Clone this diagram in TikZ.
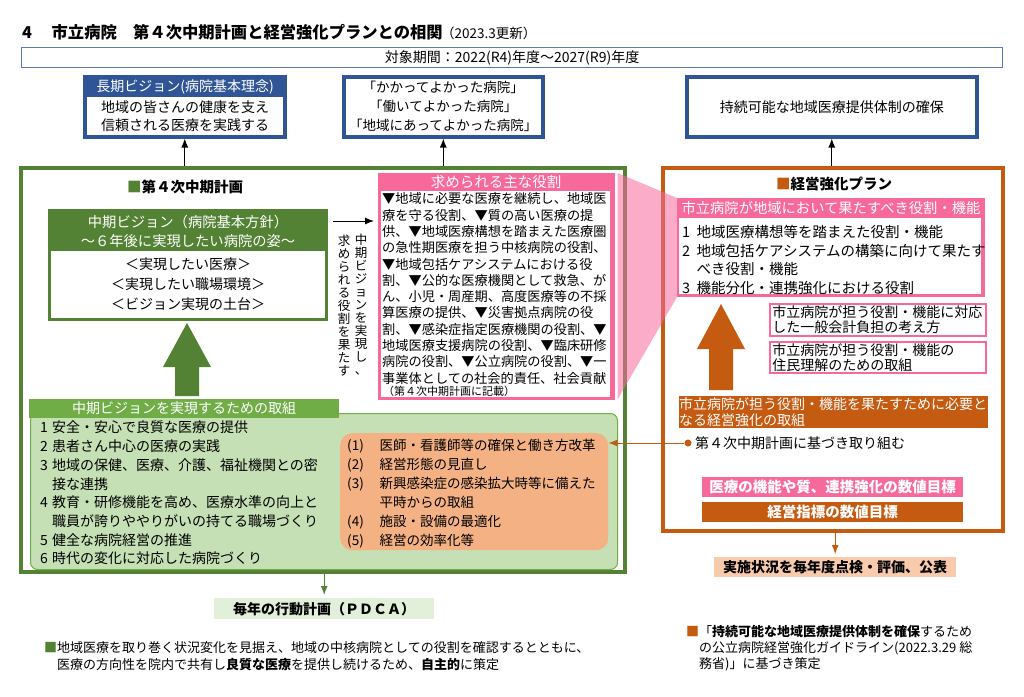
\documentclass[tikz,border=0pt]{standalone}
\usepackage{fontspec}
\setmainfont{Noto Sans CJK JP}
\usetikzlibrary{positioning, arrows.meta}

\definecolor{visionblue}{HTML}{2F5597}
\definecolor{periodblue}{HTML}{5A7BB5}
\definecolor{plangreen}{HTML}{548235}
\definecolor{midgreen}{HTML}{70AD47}
\definecolor{palegreen}{HTML}{C5E0B4}
\definecolor{lightgreen}{HTML}{E2F0D9}
\definecolor{mgmtorange}{HTML}{C55A11}
\definecolor{softorange}{HTML}{F4B183}
\definecolor{paleorange}{HTML}{F8CBAD}
\definecolor{rolepink}{HTML}{F8699B}

\newcommand{\fsz}[2]{\fontsize{#1}{#2}\selectfont\lineskiplimit=-20pt\relax}

\begin{document}
\begin{tikzpicture}[
        x=1pt, y=-1pt,
        >={Latex[length=9pt, width=7pt]},
        frame/.style={draw, rectangle, line width=3.5pt, fill=white, anchor=north west, inner sep=0pt},
        fillbox/.style={rectangle, anchor=north west, inner sep=0pt},
        textblock/.style={anchor=north west, align=left, inner sep=0pt},
        arrow/.style={->, line width=1.2pt}
    ]
    \useasboundingbox[fill=white] (0,0) rectangle (1024,696);

    % Title and period
    \node[anchor=west, inner sep=0pt, font=\fsz{16.3}{18}\bfseries] (title) at (22,32) {4\hspace{1.2em}市立病院\hspace{1em}第４次中期計画と経営強化プランとの相関};
    \node[anchor=west, inner sep=0pt, font=\fsz{13.5}{15}] (update) at (441,33) {（2023.3更新）};
    \node[fillbox, draw=periodblue, line width=1.3pt, minimum width=981, minimum height=20, font=\fsz{14}{16}] (period) at (21,47) {対象期間：2022(R4)年度～2027(R9)年度};

    % Goals
    \node[frame, draw=visionblue, fill=visionblue, minimum width=200, minimum height=60] (longterm) at (83,75) {};
    \node[font=\fsz{14}{16}, text=white] (longtitle) at (185,87) {長期ビジョン(病院基本理念)};
    \node[fillbox, fill=white, minimum width=196, minimum height=38, align=center, font=\fsz{14}{18.5}] (longbody) at (87,97) {地域の皆さんの健康を支え\\信頼される医療を実践する};
    \node[frame, draw=visionblue, minimum width=199, minimum height=60, align=center, font=\fsz{13.5}{19}] (values) at (342,75) {「かかってよかった病院」\\「働いてよかった病院」\\「地域にあってよかった病院」};
    \node[frame, draw=visionblue, minimum width=290, minimum height=60, font=\fsz{14}{16}] (sustain) at (685,75) {持続可能な地域医療提供体制の確保};

    % Frames
    \node[frame, draw=plangreen, minimum width=604, minimum height=404] (midplan) at (19,166) {};
    \node[frame, draw=mgmtorange, minimum width=340, minimum height=363] (mgmtplan) at (661,166) {};

    \draw[arrow] (longterm.south |- midplan.north) -- (longterm.south);
    \draw[arrow] (values.south |- midplan.north) -- (values.south);
    \draw[arrow] (sustain.south |- mgmtplan.north) -- (sustain.south);

    % Medium-term plan
    \node[font=\fsz{14.5}{16}\bfseries] (plantitle) at (185,187) {\textcolor{plangreen}{■}第４次中期計画};
    \node[fillbox, fill=plangreen, minimum width=280, minimum height=112] (vision) at (48,209) {};
    \node[align=center, text=white, font=\fsz{14.3}{19}] (visiontitle) at (188,231) {中期ビジョン（病院基本方針）\\～６年後に実現したい病院の姿～};
    \node[fillbox, fill=white, minimum width=274, minimum height=67, align=center, font=\fsz{14}{20}] (visionbody) at (51,251) {＜実現したい医療＞\\＜実現したい職場環境＞\\＜ビジョン実現の土台＞};
    \fill[plangreen] (175,396) -- (175,367) -- (163,367) -- (187,323) -- (211,367) -- (199,367) -- (199,396) -- cycle;

    % Required roles
    \node[fillbox, fill=rolepink, draw=rolepink, line width=2.5pt, minimum width=234, minimum height=224] (roles) at (378,173) {};
    \node[text=white, font=\fsz{14.5}{16}] (rolestitle) at (496,182) {求められる主な役割};
    \node[fillbox, fill=white, minimum width=229, minimum height=206] (rolesbody) at (381,191) {};
    \node[textblock, font=\fsz{13.2}{16.3}] (rolestext) at (382,192.5) {▼地域に必要な医療を継続し、地域医\\
療を守る役割、▼質の高い医療の提\\
供、▼地域医療構想を踏まえた医療圏\\
の急性期医療を担う中核病院の役割、\\
▼地域包括ケアシステムにおける役\\
割、▼公的な医療機関として救急、が\\
ん、小児・周産期、高度医療等の不採\\
算医療の提供、▼災害拠点病院の役\\
割、▼感染症指定医療機関の役割、▼\\
地域医療支援病院の役割、▼臨床研修\\
病院の役割、▼公立病院の役割、▼一\\
事業体としての社会的責任、社会貢献};
    \node[anchor=west, inner sep=0pt, font=\fsz{11}{12}] (rolesnote) at (383,391) {（第４次中期計画に記載）};

    \coordinate (handover) at (333,221);
    \draw[arrow, line width=1pt, shorten >=4pt] (handover) -- (handover -| roles.west);
    \node[align=center, inner sep=0pt, font=\fsz{12.5}{13}] (vrealize) at (361,305) {中\\期\\ビ\\ジ\\ョ\\ン\\を\\実\\現\\し\\、};
    \node[align=center, inner sep=0pt, font=\fsz{12.5}{13}] (vfulfil) at (344,306) {求\\め\\ら\\れ\\る\\役\\割\\を\\果\\た\\す};

    % Management plan
    \node[font=\fsz{14.5}{16}\bfseries] (mgmttitle) at (834,184) {\textcolor{mgmtorange}{■}経営強化プラン};
    \node[fillbox, fill=rolepink, draw=rolepink, line width=2pt, minimum width=306, minimum height=97] (duties) at (677,198) {};
    \node[text=white, font=\fsz{14.3}{16}] (dutiestitle) at (831,208) {市立病院が地域において果たすべき役割・機能};
    \node[fillbox, fill=white, minimum width=302, minimum height=76] (dutiesbody) at (679,218) {};
    \node[textblock, font=\fsz{14.5}{18.7}] (dutiestext) at (682,225) {\makebox[1em][l]{1}地域医療構想等を踏まえた役割・機能\\
\makebox[1em][l]{2}地域包括ケアシステムの構築に向けて果たす\\
\hspace*{1em}べき役割・機能\\
\makebox[1em][l]{3}機能分化・連携強化における役割};

    % pink link between role boxes
    \fill[rolepink, opacity=0.55] ([xshift=3pt]roles.north east) -- (duties.north west) -- (duties.south west) -- ([xshift=3pt]roles.south east) -- cycle;

    \fill[mgmtorange] (709,390) -- (709,349) -- (697,349) -- (721,304) -- (745,349) -- (733,349) -- (733,390) -- cycle;
    \node[fillbox, draw=rolepink, line width=1.5pt, minimum width=216, minimum height=32, text width=211, align=left, font=\fsz{14}{15}] (burden) at (769,303) {市立病院が担う役割・機能に対応\\した一般会計負担の考え方};
    \node[fillbox, draw=rolepink, line width=1.5pt, minimum width=216, minimum height=31, text width=211, align=left, font=\fsz{14}{15}] (outreach) at (769,341) {市立病院が担う役割・機能の\\住民理解のための取組};
    \node[fillbox, fill=mgmtorange, minimum width=309, minimum height=32, text width=309, align=left, text=white, font=\fsz{14}{16}] (enhance) at (679,396) {市立病院が担う役割・機能を果たすために必要と\\なる経営強化の取組};
    \node[circle, fill=mgmtorange, inner sep=0pt, minimum size=7pt] (basisdot) at (688,443) {};
    \node[anchor=west, inner sep=0pt, font=\fsz{14}{16}] (basis) at (695,443) {第４次中期計画に基づき取り組む};
    \node[fillbox, fill=rolepink, minimum width=261, minimum height=20, text=white, font=\fsz{14.5}{16}\bfseries] (qualitytarget) at (702,477) {医療の機能や質、連携強化の数値目標};
    \node[fillbox, fill=mgmtorange, minimum width=261, minimum height=20, text=white, font=\fsz{14.5}{16}\bfseries] (financetarget) at (702,502) {経営指標の数値目標};
    \node[fillbox, fill=paleorange, minimum width=242, minimum height=20, font=\fsz{14}{16}\bfseries] (review) at (714,557) {実施状況を毎年度点検・評価、公表};
    \draw[arrow, mgmtorange, line width=1pt, shorten >=3pt] (review.north |- mgmtplan.south) -- (review.north);

    % Actions
    \node[fillbox, draw=midgreen, fill=palegreen, line width=1pt, rounded corners=7pt, minimum width=587, minimum height=156] (actions) at (30,413) {};
    \node[fillbox, fill=midgreen, minimum width=310, minimum height=19, text=white, font=\fsz{14}{16}] (actionstitle) at (29,399) {中期ビジョンを実現するための取組};
    \node[textblock, font=\fsz{14}{18.7}] (actionstext) at (40,421) {\makebox[0.85em][l]{1}安全・安心で良質な医療の提供\\
\makebox[0.85em][l]{2}患者さん中心の医療の実践\\
\makebox[0.85em][l]{3}地域の保健、医療、介護、福祉機関との密\\
\hspace*{0.85em}接な連携\\
\makebox[0.85em][l]{4}教育・研修機能を高め、医療水準の向上と\\
\hspace*{0.85em}職員が誇りややりがいの持てる職場づくり\\
\makebox[0.85em][l]{5}健全な病院経営の推進\\
\makebox[0.85em][l]{6}時代の変化に対応した病院づくり};
    \node[fillbox, fill=softorange, rounded corners=12pt, minimum width=268, minimum height=117] (reforms) at (340,433) {};
    \node[textblock, font=\fsz{13.5}{19}] (reformstext) at (347,438.5) {\makebox[2.4em][l]{(1)}医師・看護師等の確保と働き方改革\\
\makebox[2.4em][l]{(2)}経営形態の見直し\\
\makebox[2.4em][l]{(3)}新興感染症の感染拡大時等に備えた\\
\hspace*{2.4em}平時からの取組\\
\makebox[2.4em][l]{(4)}施設・設備の最適化\\
\makebox[2.4em][l]{(5)}経営の効率化等};
    \draw[arrow, mgmtorange, line width=1pt] (basisdot) -- (basisdot -| reforms.east);

    \node[fillbox, fill=lightgreen, minimum width=220, minimum height=21, font=\fsz{14}{16}\bfseries] (pdca) at (214,598) {毎年の行動計画（ＰＤＣＡ）};
    \draw[arrow, plangreen, line width=1pt, shorten >=3pt] (pdca.north |- midplan.south) -- (pdca.north);

    % Notes
    \node[textblock, font=\fsz{13}{17}] (localnote) at (44,641.5) {\textcolor{plangreen}{■}地域医療を取り巻く状況変化を見据え、地域の中核病院としての役割を確認するとともに、\\
\hspace*{1em}医療の方向性を院内で共有し\textbf{良質な医療}を提供し続けるため、\textbf{自主的}に策定};
    \node[textblock, font=\fsz{13}{16}] (guidenote) at (686,625.5) {\textcolor{mgmtorange}{■}「\textbf{持続可能な地域医療提供体制を確保}するため\\
\hspace*{1em}の公立病院経営強化ガイドライン(2022.3.29 総\\
\hspace*{1em}務省)」に基づき策定};
\end{tikzpicture}
\end{document}
